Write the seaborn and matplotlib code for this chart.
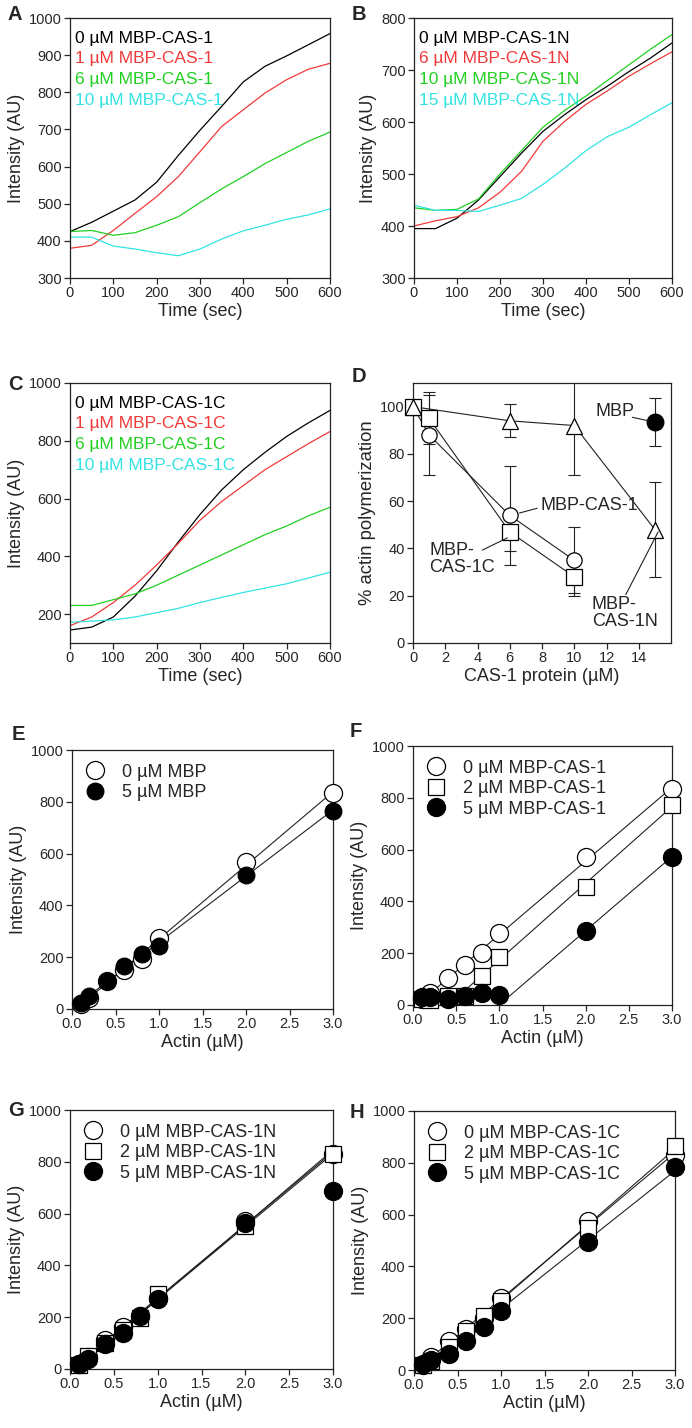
import numpy as np
import pandas as pd
import seaborn as sns
import matplotlib
matplotlib.use("Agg")
import matplotlib.pyplot as plt

sns.set_style("ticks")
plt.rcParams["font.family"] = ["Liberation Sans", "DejaVu Sans"]
plt.rcParams["axes.linewidth"] = 0.9
plt.rcParams["xtick.major.width"] = 0.9
plt.rcParams["ytick.major.width"] = 0.9
plt.rcParams["xtick.major.size"] = 4
plt.rcParams["ytick.major.size"] = 4
plt.rcParams["xtick.labelsize"] = 10.5
plt.rcParams["ytick.labelsize"] = 10.5

MU = "\u00b5"

# ---- time courses (A-C) ----
t = [0, 50, 100, 150, 200, 250, 300, 350, 400, 450, 500, 550, 600]

a_labels = ["0 µM MBP-CAS-1", "1 µM MBP-CAS-1", "6 µM MBP-CAS-1", "10 µM MBP-CAS-1"]
a_0 = [425, 450, 480, 510, 558, 630, 698, 762, 828, 870, 898, 928, 958]
a_1 = [380, 388, 428, 474, 519, 573, 640, 708, 753, 798, 834, 862, 878]
a_6 = [425, 428, 415, 422, 442, 465, 503, 540, 573, 608, 638, 668, 693]
a_10 = [410, 410, 386, 378, 368, 360, 378, 405, 427, 442, 458, 470, 486]

b_labels = ["0 µM MBP-CAS-1N", "6 µM MBP-CAS-1N", "10 µM MBP-CAS-1N", "15 µM MBP-CAS-1N"]
b_0 = [395, 395, 415, 450, 495, 540, 582, 614, 643, 669, 697, 723, 752]
b_6 = [400, 410, 418, 435, 465, 505, 563, 601, 634, 660, 688, 712, 735]
b_10 = [435, 430, 432, 452, 500, 545, 590, 622, 650, 680, 710, 740, 768]
b_15 = [440, 430, 430, 428, 440, 453, 480, 511, 545, 572, 590, 614, 637]

c_labels = ["0 µM MBP-CAS-1C", "1 µM MBP-CAS-1C", "6 µM MBP-CAS-1C", "10 µM MBP-CAS-1C"]
c_0 = [145, 155, 190, 262, 350, 450, 545, 630, 700, 760, 815, 862, 905]
c_1 = [160, 190, 240, 300, 370, 445, 525, 590, 645, 700, 745, 790, 832]
c_6 = [230, 230, 250, 270, 300, 335, 370, 405, 440, 475, 505, 540, 570]
c_10 = [172, 176, 180, 190, 205, 220, 240, 258, 275, 290, 305, 325, 345]

trace_colors = ["black", "#f03a3a", "#22d022", "#33e3e3"]

# ---- panel D ----
d_cas1_x = [0, 1, 6, 10]
d_cas1_y = [100, 88, 54, 35]
d_cas1_err = [0, 17, 21, 14]
d_1c_x = [0, 1, 6, 10]
d_1c_y = [100, 95, 47, 28]
d_1c_err = [0, 11, 8, 8]
d_1n_x = [0, 6, 10, 15]
d_1n_y = [100, 94, 92, 48]
d_1n_err = [0, 7, 21, 20]
d_mbp_x = [15]
d_mbp_y = [93.5]
d_mbp_err = [10]

# ---- critical concentration (E-H) ----
actin = [0.1, 0.2, 0.4, 0.6, 0.8, 1.0, 2.0, 3.0]

e_labels = ["0 µM MBP", "5 µM MBP"]
e_0 = [20, 42, 107, 152, 193, 274, 569, 833]
e_5 = [23, 49, 107, 165, 212, 245, 518, 766]

f_labels = ["0 µM MBP-CAS-1", "2 µM MBP-CAS-1", "5 µM MBP-CAS-1"]
f_0 = [25, 48, 105, 154, 200, 277, 570, 833]
f_2 = [22, 18, 35, 35, 112, 184, 457, 772]
f_5 = [30, 30, 25, 35, 45, 39, 287, 573]

g_labels = ["0 µM MBP-CAS-1N", "2 µM MBP-CAS-1N", "5 µM MBP-CAS-1N"]
g_0 = [20, 45, 113, 162, 205, 275, 572, 830]
g_2 = [15, 50, 100, 150, 198, 289, 552, 829]
g_5 = [20, 40, 95, 140, 205, 270, 562, 688]

h_labels = ["0 µM MBP-CAS-1C", "2 µM MBP-CAS-1C", "5 µM MBP-CAS-1C"]
h_0 = [20, 50, 113, 160, 200, 279, 576, 829]
h_2 = [20, 35, 90, 150, 209, 265, 548, 865]
h_5 = [25, 40, 60, 113, 167, 229, 495, 784]

# fit windows: (first x used, last x used, line start)
e_fits = [(0.1, 3.0, 0.1), (0.1, 3.0, 0.1)]
f_fits = [(0.2, 3.0, 0.1), (0.8, 3.0, 0.55), (2.0, 3.0, 1.05)]
g_fits = [(0.1, 3.0, 0.1), (0.1, 3.0, 0.1), (0.1, 2.0, 0.1)]
h_fits = [(0.1, 3.0, 0.1), (0.1, 3.0, 0.1), (0.1, 3.0, 0.1)]

W, H = 692, 1428
fig = plt.figure(figsize=(W / 100, H / 100), dpi=100)


def add_ax(left, top, right, bottom):
    return fig.add_axes([left / W, 1 - bottom / H, (right - left) / W, (bottom - top) / H])


def letter(x, y, s):
    fig.text(x / W, 1 - y / H, s, fontsize=14.5, fontweight="bold", va="center", ha="left")


def style(ax):
    for sp in ax.spines.values():
        sp.set_visible(True)
        sp.set_color("#222222")
    ax.tick_params(direction="out", pad=2)


def trace_panel(ax, series, labels, ylim, yticks):
    df = pd.DataFrame({"t": t * 4,
                       "v": sum(series, []),
                       "s": sum([[l] * len(t) for l in labels], [])})
    sns.lineplot(data=df, x="t", y="v", hue="s", palette=trace_colors, lw=0.9, ax=ax)
    ax.set_xlim(0, 600)
    ax.set_ylim(*ylim)
    ax.set_yticks(yticks)
    ax.set_xticks(range(0, 601, 100))
    ax.set_xlabel("Time (sec)", fontsize=13, labelpad=2)
    ax.set_ylabel("Intensity (AU)", fontsize=13, labelpad=3)
    leg = ax.legend(loc="upper left", bbox_to_anchor=(-0.015, 0.985), frameon=False,
                    handlelength=0, handletextpad=0, fontsize=12.5, labelspacing=0.32,
                    borderaxespad=0.3, borderpad=0.2, labelcolor="linecolor")
    for h in leg.legend_handles:
        h.set_visible(False)
    style(ax)


def actin_panel(ax, series, labels, fits):
    if len(series) == 2:
        markers = ["o", "o"]
        faces = ["white", "black"]
    else:
        markers = ["o", "s", "o"]
        faces = ["white", "white", "black"]
    sizes = [13, 12, 13]
    for i, y in enumerate(series):
        lo, hi, x0 = fits[i]
        xa = np.array(actin)
        ya = np.array(y)
        m = (xa >= lo) & (xa <= hi)
        k, b = np.polyfit(xa[m], ya[m], 1)
        xs = np.array([x0, 3.0])
        ax.plot(xs, k * xs + b, color="#222222", lw=0.8, zorder=2)
    for i, y in enumerate(series):
        ax.plot(actin, y, ls="none", marker=markers[i], ms=sizes[i], mfc=faces[i],
                mec="black", mew=0.9, clip_on=False, zorder=3, label=labels[i])
    ax.set_xlim(0, 3.0)
    ax.set_ylim(0, 1000)
    ax.set_xticks([0.0, 0.5, 1.0, 1.5, 2.0, 2.5, 3.0])
    ax.set_xticklabels(["0.0", "0.5", "1.0", "1.5", "2.0", "2.5", "3.0"])
    ax.set_yticks(range(0, 1001, 200))
    ax.set_xlabel(f"Actin ({MU}M)", fontsize=13, labelpad=2)
    ax.set_ylabel("Intensity (AU)", fontsize=13, labelpad=3)
    ax.legend(loc="upper left", frameon=False, fontsize=13, numpoints=1,
              handlelength=1.0, handletextpad=1.0, labelspacing=0.2,
              borderaxespad=0.45, borderpad=0.3)
    style(ax)


# A
axA = add_ax(70, 18, 330, 278)
trace_panel(axA, [a_0, a_1, a_6, a_10], a_labels, (300, 1000), range(300, 1001, 100))
letter(8, 15, "A")

# B
axB = add_ax(414, 18, 672, 278)
trace_panel(axB, [b_0, b_6, b_10, b_15], b_labels, (300, 800), range(300, 801, 100))
letter(352, 14, "B")

# C
axC = add_ax(70, 383, 330, 643)
trace_panel(axC, [c_0, c_1, c_6, c_10], c_labels, (100, 1000), range(200, 1001, 200))
letter(8, 384, "C")

# D
axD = add_ax(413, 383, 671, 643)
for xs, ys, es, mk, fc, ms in [(d_cas1_x, d_cas1_y, d_cas1_err, "o", "white", 11),
                               (d_1c_x, d_1c_y, d_1c_err, "s", "white", 11),
                               (d_1n_x, d_1n_y, d_1n_err, "^", "white", 12),
                               (d_mbp_x, d_mbp_y, d_mbp_err, "o", "black", 12)]:
    axD.errorbar(xs, ys, yerr=es, fmt="none", ecolor="#222222", elinewidth=0.8,
                 capsize=4, capthick=0.8, zorder=2)
    if len(xs) > 1:
        sns.lineplot(x=xs, y=ys, color="#222222", lw=0.8, ax=axD, zorder=2)
    axD.plot(xs, ys, ls="none", marker=mk, ms=ms, mfc=fc, mec="black", mew=0.9,
             clip_on=False, zorder=3)
axD.set_xlim(0, 16)
axD.set_ylim(0, 110)
axD.set_xticks(range(0, 15, 2))
axD.set_yticks(range(0, 101, 20))
axD.set_xlabel(f"CAS-1 protein ({MU}M)", fontsize=13, labelpad=2)
axD.set_ylabel("% actin polymerization", fontsize=13.3, labelpad=3)
ann = dict(fontsize=13, va="center", ha="left")
line = dict(arrowstyle="-", lw=0.8, color="#222222", shrinkA=0, shrinkB=0)
axD.text(11.3, 98, "MBP", **ann)
axD.annotate("", xy=(14.6, 94), xytext=(13.6, 95.5), arrowprops=line)
axD.text(7.9, 58, "MBP-CAS-1", **ann)
axD.annotate("", xy=(6.6, 55), xytext=(7.7, 57), arrowprops=line)
axD.text(1.0, 35.5, "MBP-\nCAS-1C", linespacing=1.05, **ann)
axD.annotate("", xy=(5.86, 44.5), xytext=(4.3, 39.3), arrowprops=line)
axD.text(11.1, 12.7, "MBP-\nCAS-1N", linespacing=1.05, **ann)
axD.annotate("", xy=(15.2, 47), xytext=(13.2, 20.5), arrowprops=line)
style(axD)
letter(352, 376, "D")

# E
axE = add_ax(72, 750, 333, 1009)
actin_panel(axE, [e_0, e_5], e_labels, e_fits)
letter(12, 735, "E")

# F
axF = add_ax(413, 746, 672, 1005)
actin_panel(axF, [f_0, f_2, f_5], f_labels, f_fits)
letter(350, 732, "F")

# G
axG = add_ax(70, 1110, 333, 1369)
actin_panel(axG, [g_0, g_2, g_5], g_labels, g_fits)
letter(8, 1111, "G")

# H
axH = add_ax(414, 1111, 675, 1370)
actin_panel(axH, [h_0, h_2, h_5], h_labels, h_fits)
letter(350, 1112, "H")

fig.savefig("out.png", dpi=100)
